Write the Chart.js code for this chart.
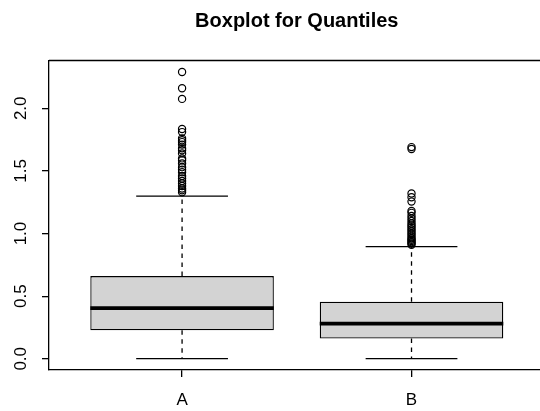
<!DOCTYPE html>
<html>
<head>
<meta charset="utf-8">
<script src="https://cdn.jsdelivr.net/npm/chart.js@4.4.1/dist/chart.umd.min.js"></script>
<style>
  html, body { margin: 0; padding: 0; background: #ffffff; overflow: hidden; }
  canvas { display: block; }
</style>
</head>
<body>
<canvas id="chart" width="540" height="411"></canvas>
<script>
// ---- data ----
const categories = ['A', 'B'];
const positions = [1, 2];
const q1 = [0.227, 0.161];
const medians = [0.405, 0.281];
const q3 = [0.660, 0.456];
const whiskerLow = [0.002, 0.002];
const whiskerHigh = [1.298, 0.896];
const outliersA = [2.29, 2.16, 2.075, 1.835, 1.81, 1.76, 1.745, 1.73, 1.71, 1.68, 1.665,
  1.64, 1.60, 1.585, 1.56, 1.53, 1.51, 1.49, 1.46, 1.44, 1.42, 1.40, 1.38, 1.36, 1.345, 1.33];
const outliersB = [1.69, 1.675, 1.32, 1.29, 1.255, 1.18, 1.165, 1.14, 1.12, 1.10, 1.08,
  1.065, 1.05, 1.035, 1.02, 1.005, 0.99, 0.975, 0.96, 0.95, 0.94, 0.93, 0.92, 0.91];
const yTickValues = [0, 0.5, 1.0, 1.5, 2.0];
const chartTitle = 'Boxplot for Quantiles';

// ---- style ----
const FONT = '"Liberation Sans", Arial, Helvetica, sans-serif';
const INK = '#000000';
const LW = 1.3;
const BOX_HALF = 0.4;     // half box width, x units
const CAP_HALF = 0.2;     // half whisker-cap width, x units

// axis ranges padded by 4% as in a classic boxplot
const allVals = [].concat(whiskerLow, whiskerHigh, outliersA, outliersB);
const yLo = Math.min(...allVals), yHi = Math.max(...allVals);
const yPad = (yHi - yLo) * 0.04;
const xMin = positions[0] - 0.58;
const xFull = positions[positions.length - 1] + 0.58;
const xMax = 2.56;

const boxPlugin = {
  id: 'boxParts',
  beforeDatasetsDraw(chart) {
    const ctx = chart.ctx, xs = chart.scales.x, ys = chart.scales.y;
    ctx.save();
    ctx.strokeStyle = INK;
    ctx.lineWidth = LW;
    positions.forEach((p, i) => {
      const cx = xs.getPixelForValue(p);
      // dashed whiskers
      ctx.setLineDash([4.5, 4.5]);
      ctx.beginPath();
      ctx.moveTo(cx, ys.getPixelForValue(q3[i]));
      ctx.lineTo(cx, ys.getPixelForValue(whiskerHigh[i]));
      ctx.moveTo(cx, ys.getPixelForValue(q1[i]));
      ctx.lineTo(cx, ys.getPixelForValue(whiskerLow[i]));
      ctx.stroke();
      // caps
      ctx.setLineDash([]);
      ctx.beginPath();
      [whiskerHigh[i], whiskerLow[i]].forEach(v => {
        const py = ys.getPixelForValue(v);
        ctx.moveTo(xs.getPixelForValue(p - CAP_HALF), py);
        ctx.lineTo(xs.getPixelForValue(p + CAP_HALF), py);
      });
      ctx.stroke();
    });
    ctx.restore();
  },
  afterDatasetsDraw(chart) {
    const ctx = chart.ctx, xs = chart.scales.x, ys = chart.scales.y;
    const area = chart.chartArea;
    ctx.save();
    // medians
    ctx.strokeStyle = INK;
    ctx.lineWidth = 3.8;
    ctx.lineCap = 'butt';
    positions.forEach((p, i) => {
      const py = ys.getPixelForValue(medians[i]);
      ctx.beginPath();
      ctx.moveTo(xs.getPixelForValue(p - BOX_HALF), py);
      ctx.lineTo(xs.getPixelForValue(p + BOX_HALF), py);
      ctx.stroke();
    });
    // top edge of the frame
    ctx.lineWidth = LW;
    ctx.beginPath();
    ctx.moveTo(area.left, area.top);
    ctx.lineTo(area.right, area.top);
    ctx.stroke();
    // y tick labels, parallel to the axis
    ctx.fillStyle = INK;
    ctx.font = '17px ' + FONT;
    ctx.textAlign = 'center';
    ctx.textBaseline = 'alphabetic';
    yTickValues.forEach(v => {
      ctx.save();
      ctx.translate(25.5, ys.getPixelForValue(v));
      ctx.rotate(-Math.PI / 2);
      ctx.fillText(v.toFixed(1), 0, 0);
      ctx.restore();
    });
    // title centred over the plot region
    ctx.font = 'bold 20px ' + FONT;
    ctx.fillText(chartTitle, xs.getPixelForValue((xMin + xFull) / 2), 26.5);
    ctx.restore();
  }
};

new Chart(document.getElementById('chart'), {
  data: {
    datasets: [
      {
        type: 'bar',
        data: positions.map((p, i) => ({ x: p, y: [q1[i], q3[i]] })),
        backgroundColor: '#d3d3d3',
        borderColor: INK,
        borderWidth: LW,
        borderSkipped: false,
        barPercentage: 1,
        categoryPercentage: 0.8
      },
      {
        type: 'scatter',
        data: outliersA.map(v => ({ x: positions[0], y: v }))
          .concat(outliersB.map(v => ({ x: positions[1], y: v }))),
        pointStyle: 'circle',
        pointRadius: 3.6,
        pointBackgroundColor: 'rgba(0,0,0,0)',
        pointBorderColor: INK,
        pointBorderWidth: 1.2,
        showLine: false
      }
    ]
  },
  options: {
    responsive: false,
    animation: false,
    events: [],
    layout: { autoPadding: false, padding: { top: 60.5, left: 0, right: 0, bottom: 0 } },
    plugins: { legend: { display: false }, tooltip: { enabled: false }, title: { display: false } },
    scales: {
      x: {
        type: 'linear',
        min: xMin,
        max: xMax,
        offset: false,
        afterBuildTicks: s => { s.ticks = positions.map(v => ({ value: v })); },
        afterFit: s => { s.height = 41; s.paddingLeft = 0; s.paddingRight = 0; },
        border: { display: true, color: INK, width: LW },
        grid: { display: true, offset: false, drawOnChartArea: false, drawTicks: true, tickLength: 7, color: INK, lineWidth: LW },
        ticks: {
          callback: (v, i) => categories[i],
          autoSkip: false, maxRotation: 0, minRotation: 0,
          color: INK, padding: 13,
          font: { family: FONT, size: 17 }
        }
      },
      y: {
        type: 'linear',
        min: yLo - yPad,
        max: yHi + yPad,
        afterBuildTicks: s => { s.ticks = yTickValues.map(v => ({ value: v })); },
        afterFit: s => { s.width = 49; s.paddingTop = 0; s.paddingBottom = 0; },
        border: { display: true, color: INK, width: LW },
        grid: { display: true, drawOnChartArea: false, drawTicks: true, tickLength: 7, color: INK, lineWidth: LW },
        ticks: { display: false }
      }
    }
  },
  plugins: [boxPlugin]
});
</script>
</body>
</html>
